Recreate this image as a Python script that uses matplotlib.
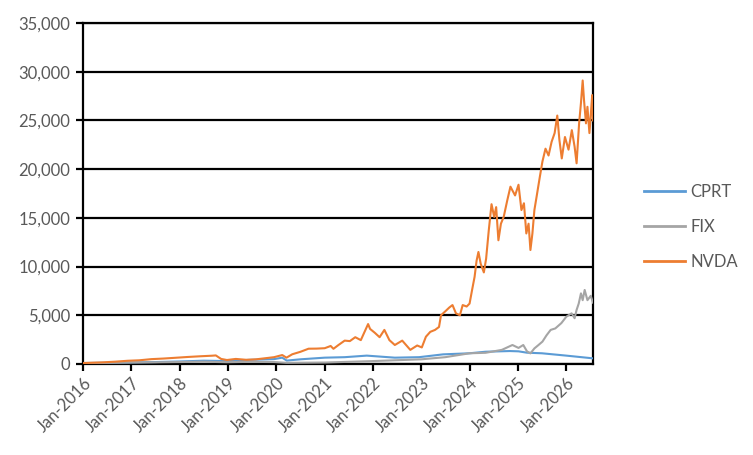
import matplotlib
matplotlib.use("Agg")
import matplotlib.pyplot as plt
import matplotlib.dates as mdates
from matplotlib.ticker import FuncFormatter
import pandas as pd

# Values
nvda_dates = [
    "2016-01-04", "2016-06-01", "2016-09-01", "2016-12-01", "2017-03-01", "2017-06-01",
    "2017-09-01", "2017-12-01", "2018-03-01", "2018-06-01", "2018-09-01", "2018-10-01",
    "2018-11-10", "2018-12-24", "2019-03-01", "2019-05-20", "2019-08-01", "2019-10-15",
    "2019-12-15", "2020-02-15", "2020-03-18", "2020-05-01", "2020-07-01", "2020-09-01",
    "2020-11-01", "2021-01-01", "2021-02-15", "2021-03-08", "2021-04-15", "2021-06-01",
    "2021-07-10", "2021-08-20", "2021-10-01", "2021-11-25", "2021-12-10", "2022-01-15",
    "2022-02-20", "2022-03-28", "2022-05-05", "2022-06-15", "2022-08-10", "2022-10-10",
    "2022-12-01", "2023-01-05", "2023-02-05", "2023-03-10", "2023-04-15", "2023-05-15",
    "2023-05-30", "2023-07-01", "2023-08-01", "2023-08-25", "2023-09-20", "2023-10-20",
    "2023-11-10", "2023-12-10", "2024-01-01", "2024-01-20", "2024-02-08", "2024-02-23",
    "2024-03-08", "2024-03-25", "2024-04-18", "2024-05-05", "2024-05-25", "2024-06-15",
    "2024-07-05", "2024-07-20", "2024-08-06", "2024-08-25", "2024-09-15", "2024-10-12",
    "2024-11-05", "2024-12-10", "2025-01-05", "2025-01-27", "2025-02-15", "2025-03-05",
    "2025-03-22", "2025-04-05", "2025-04-20", "2025-05-05", "2025-05-22", "2025-06-15",
    "2025-07-05", "2025-07-28", "2025-08-20", "2025-09-12", "2025-10-05", "2025-10-25",
    "2025-11-10", "2025-11-28", "2025-12-22", "2026-01-18", "2026-02-12", "2026-03-05",
    "2026-03-20", "2026-04-08", "2026-04-22", "2026-05-05", "2026-05-15", "2026-05-30",
    "2026-06-10", "2026-06-25", "2026-07-08", "2026-07-16", "2026-07-22",
]
nvda_values = [
    100, 170, 240, 330, 380, 500,
    560, 640, 720, 790, 850, 880,
    520, 410, 520, 430, 480, 600,
    700, 920, 650, 1000, 1250, 1570,
    1580, 1620, 1850, 1560, 1950, 2400,
    2350, 2750, 2450, 4100, 3600, 3200,
    2750, 3500, 2450, 1950, 2400, 1450,
    1900, 1700, 2800, 3300, 3500, 3800,
    5000, 5400, 5800, 6050, 5200, 5000,
    6050, 5900, 6200, 7600, 8950, 10600,
    11500, 10300, 9400, 10800, 13700, 16400,
    15100, 16100, 12700, 14400, 15100, 16800,
    18200, 17300, 18400, 15800, 16500, 13400,
    14400, 11700, 13400, 15800, 17200, 19200,
    20800, 22100, 21400, 22800, 23700, 25500,
    23000, 21100, 23300, 22000, 24000, 22300,
    20600, 24700, 26800, 29100, 27100, 24700,
    26400, 23700, 26100, 27600, 25000,
]

fix_dates = [
    "2016-01-04", "2016-07-01", "2017-01-01", "2017-07-01", "2018-01-01", "2018-07-01",
    "2018-12-24", "2019-06-01", "2019-12-15", "2020-03-18", "2021-01-01", "2022-01-01",
    "2023-01-01", "2023-07-01", "2024-01-01", "2024-05-01", "2024-09-01", "2024-11-20",
    "2025-01-05", "2025-02-10", "2025-03-10", "2025-04-05", "2025-05-05", "2025-06-05",
    "2025-07-05", "2025-08-05", "2025-09-05", "2025-10-10", "2025-11-25", "2026-01-01",
    "2026-02-10", "2026-03-05", "2026-03-20", "2026-04-05", "2026-04-22", "2026-05-05",
    "2026-05-20", "2026-06-10", "2026-07-05", "2026-07-22",
]
fix_values = [
    100, 120, 150, 170, 200, 240,
    180, 220, 200, 120, 150, 300,
    480, 700, 1100, 1150, 1450, 1950,
    1650, 1950, 1300, 1090, 1600, 1950,
    2300, 2950, 3500, 3650, 4200, 4850,
    5200, 4700, 5550, 6200, 7250, 6550,
    7600, 6550, 7000, 6300,
]

cprt_dates = [
    "2016-01-04", "2016-07-01", "2017-01-01", "2017-07-01", "2018-01-01", "2018-07-01",
    "2018-12-24", "2019-06-01", "2019-12-15", "2020-02-15", "2020-03-20", "2020-07-01",
    "2021-01-01", "2021-06-01", "2021-11-15", "2022-06-15", "2022-12-15", "2023-06-15",
    "2024-01-01", "2024-05-01", "2024-11-01", "2025-01-05", "2025-03-10", "2025-07-01",
    "2026-01-01", "2026-07-22",
]
cprt_values = [
    100, 120, 160, 200, 260, 340,
    300, 420, 500, 650, 350, 480,
    650, 700, 860, 650, 700, 990,
    1100, 1260, 1330, 1300, 1160, 1100,
    860, 580,
]

year_ticks = list(range(2016, 2027))

plt.rcParams['font.family'] = ['Lato', 'DejaVu Sans']
text_color = "#595959"

fig = plt.figure(figsize=(7.53, 4.55), dpi=100)
ax = fig.add_axes([83 / 753, 1 - 364 / 455, (593 - 83) / 753, (364 - 23) / 455])

ax.plot(pd.to_datetime(cprt_dates), cprt_values, color="#5B9BD5", lw=1.5, label="CPRT", zorder=3)
ax.plot(pd.to_datetime(fix_dates), fix_values, color="#A5A5A5", lw=1.5, label="FIX", zorder=3)
ax.plot(pd.to_datetime(nvda_dates), nvda_values, color="#ED7D31", lw=1.5, label="NVDA", zorder=3)

ax.set_ylim(0, 35000)
ax.set_yticks(range(0, 35001, 5000))
ax.yaxis.set_major_formatter(FuncFormatter(lambda v, p: f"{int(v):,}"))
ax.set_xlim(pd.Timestamp("2016-01-01"), pd.Timestamp("2026-07-22"))
ax.set_xticks([pd.Timestamp(f"{y}-01-01") for y in year_ticks])
ax.xaxis.set_major_formatter(mdates.DateFormatter("%b-%Y"))

ax.grid(axis="y", color="black", lw=1.6, zorder=1)
ax.set_axisbelow(True)
for s in ax.spines.values():
    s.set_color("black")
    s.set_linewidth(1.6)

ax.tick_params(axis="both", direction="out", length=5, width=1.6, color="black",
               labelcolor=text_color, labelsize=12)
ax.tick_params(axis="y", pad=4)
ax.tick_params(axis="x", pad=3)
for lbl in ax.get_xticklabels():
    lbl.set_rotation(45)
    lbl.set_ha("right")
    lbl.set_va("top")
    lbl.set_rotation_mode("anchor")

leg = fig.legend(loc="center left", bbox_to_anchor=(636 / 753, 1 - 227 / 455), frameon=False,
                 handlelength=2.45, handletextpad=0.3, labelspacing=1.15, borderpad=0,
                 prop={"size": 12})
for t in leg.get_texts():
    t.set_color(text_color)
for h in leg.get_lines():
    h.set_linewidth(2)

fig.savefig("out.png", dpi=100)
